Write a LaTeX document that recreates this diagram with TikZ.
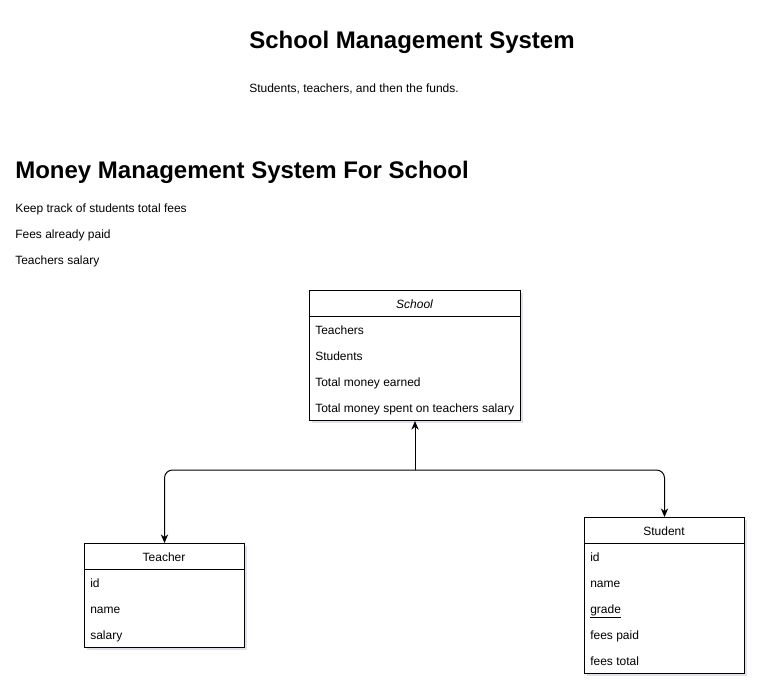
\documentclass[tikz,border=0pt]{standalone}
\usepackage{fontspec}
\setmainfont{Liberation Sans}
\usetikzlibrary{arrows.meta, shadows}

\begin{document}
\begin{tikzpicture}[x=0.75pt, y=-0.75pt,
  classbox/.style={draw, fill=white, line width=0.75pt, anchor=north west,
    inner sep=0pt, drop shadow={shadow xshift=1.5pt, shadow yshift=-1.5pt,
    opacity=0.2, fill=blue!20!gray}},
  headtext/.style={inner sep=0pt, font=\fontsize{9}{11}\selectfont},
  rowtext/.style={anchor=base west, inner sep=0pt, font=\fontsize{9}{11}\selectfont},
  bigtitle/.style={anchor=base west, inner sep=0pt, font=\fontsize{18}{22}\selectfont\bfseries},
  assoc/.style={-{Stealth[length=6.5pt, width=5.5pt]}, line width=0.75pt, rounded corners=6pt}]
  \useasboundingbox[fill=white] (0, 0) rectangle (766, 697);
  %
  \newcommand{\px}{0.75pt}
  \newcommand{\rowh}{26}
  %
  % titles and notes
  \node[bigtitle] (title) at (249, 48.6) {School Management System};
  \node[rowtext] (subtitle) at (249, 92) {Students, teachers, and then the funds.};
  \node[bigtitle] (money title) at (15, 178.6) {Money Management System For School};
  \foreach \txt [count=\i from 0] in {Keep track of students total fees, Fees already paid, Teachers salary} {
    \node[rowtext] (note \i) at (15, {212 + \rowh * \i}) {\txt};
  }
  %
  % School
  \node[classbox, minimum width=211*\px, minimum height=130*\px] (school) at (309, 290) {};
  \draw (school.north west) ++(0, \rowh) -- ++(211, 0);
  \node[headtext] (school head) at (414.5, 304) {\itshape School};
  \foreach \txt [count=\i from 0] in {Teachers, Students, Total money earned, Total money spent on teachers salary} {
    \node[rowtext] (school row \i) at (315, {334 + \rowh * \i}) {\txt};
  }
  %
  % Teacher
  \node[classbox, minimum width=160*\px, minimum height=104*\px] (teacher) at (84, 543) {};
  \draw (teacher.north west) ++(0, \rowh) -- ++(160, 0);
  \node[headtext] (teacher head) at (164, 557) {Teacher};
  \foreach \txt [count=\i from 0] in {id, name, salary} {
    \node[rowtext] (teacher row \i) at (90, {587 + \rowh * \i}) {\txt};
  }
  %
  % Student
  \node[classbox, minimum width=160*\px, minimum height=156*\px] (student) at (584, 517) {};
  \draw (student.north west) ++(0, \rowh) -- ++(160, 0);
  \node[headtext] (student head) at (664, 531) {Student};
  \foreach \txt [count=\i from 0] in {id, name, \underline{grade}, fees paid, fees total} {
    \node[rowtext] (student row \i) at (590, {561 + \rowh * \i}) {\txt};
  }
  %
  % associations
  \coordinate (split) at (school.south |- 0, 470);
  \draw[assoc] (split) -- (school.south);
  \draw[assoc] (split) -| (teacher.north);
  \draw[assoc] (split) -| (student.north);
\end{tikzpicture}
\end{document}
